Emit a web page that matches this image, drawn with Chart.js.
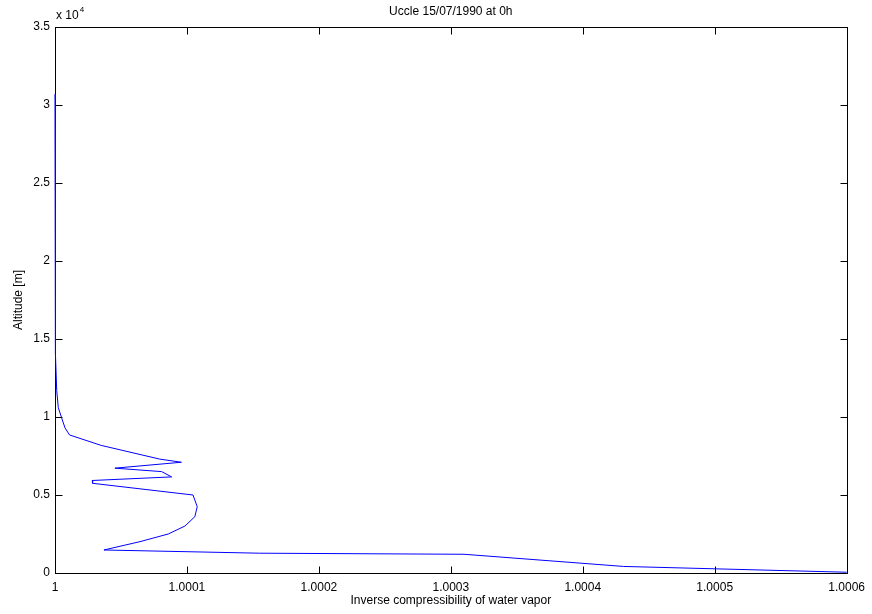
<!DOCTYPE html>
<html>
<head>
<meta charset="utf-8">
<title>Uccle 15/07/1990 at 0h</title>
<script src="https://cdn.jsdelivr.net/npm/chart.js@4/dist/chart.umd.min.js"></script>
<style>
  html, body { margin: 0; padding: 0; background: #fff; }
  #wrap { width: 872px; height: 614px; }
</style>
</head>
<body>
<div id="wrap"><canvas id="c" width="872" height="614"></canvas></div>
<script>
// Sounding profile: inverse compressibility of water vapour vs altitude
const compressibility = [
  1.0000000, 1.0000002, 1.0000005, 1.0000013, 1.0000025, 1.0000050,
  1.0000076, 1.0000110, 1.0000350, 1.0000794, 1.0000958, 1.0000454,
  1.0000808, 1.0000884, 1.0000282, 1.0000285, 1.0001046, 1.0001078,
  1.0001060, 1.0000985, 1.0000858, 1.0000644, 1.0000371, 1.0001550,
  1.0003100, 1.0004310, 1.0006000
];
const altitude = [
  30700, 20000, 14000, 11700, 10600, 9950,
  9300, 8850, 8180, 7300, 7100, 6720,
  6500, 6160, 5930, 5750, 5000, 4250,
  3610, 3010, 2500, 2010, 1475, 1270,
  1200, 420, 50
];

const xTicks = [1, 1.0001, 1.0002, 1.0003, 1.0004, 1.0005, 1.0006];
const xTickLabels = ['1', '1.0001', '1.0002', '1.0003', '1.0004', '1.0005', '1.0006'];
const yTicks = [0, 5000, 10000, 15000, 20000, 25000, 30000, 35000];
const yTickLabels = ['0', '0.5', '1', '1.5', '2', '2.5', '3', '3.5'];

const titleText = 'Uccle 15/07/1990 at 0h';
const xTitle = 'Inverse compressibility of water vapor';
const yTitle = 'Altitude [m]';

const FONT = '"Liberation Sans", Arial, Helvetica, sans-serif';
Chart.defaults.font.family = FONT;
Chart.defaults.font.size = 12;
Chart.defaults.color = '#000';

const points = compressibility.map((v, i) => ({ x: v, y: altitude[i] }));

// Box, inward tick marks on all four sides, and the text annotations
const framePlugin = {
  id: 'frame',
  beforeDatasetsDraw(chart) {
    const { ctx, chartArea: a, scales } = chart;
    const L = Math.round(a.left) + 0.5, R = Math.round(a.right) + 0.5;
    const T = Math.round(a.top) + 0.5, B = Math.round(a.bottom) + 0.5;
    const tick = 7;
    ctx.save();
    ctx.strokeStyle = '#000';
    ctx.lineWidth = 1;
    ctx.strokeRect(L, T, R - L, B - T);
    ctx.beginPath();
    xTicks.forEach(v => {
      const px = Math.round(scales.x.getPixelForValue(v)) + 0.5;
      ctx.moveTo(px, B); ctx.lineTo(px, B - tick);
      ctx.moveTo(px, T); ctx.lineTo(px, T + tick);
    });
    yTicks.forEach(v => {
      const py = Math.round(scales.y.getPixelForValue(v)) + 0.5;
      ctx.moveTo(L, py); ctx.lineTo(L + tick, py);
      ctx.moveTo(R, py); ctx.lineTo(R - tick, py);
    });
    ctx.stroke();
    ctx.restore();
  },
  afterDraw(chart) {
    const { ctx, chartArea: a } = chart;
    ctx.save();
    ctx.fillStyle = '#000';
    ctx.font = '12px ' + FONT;
    ctx.textBaseline = 'middle';
    ctx.textAlign = 'center';
    ctx.fillText(titleText, (a.left + a.right) / 2, 12);
    ctx.fillText(xTitle, (a.left + a.right) / 2, 601);
    // exponent marker for the altitude axis
    ctx.textAlign = 'left';
    ctx.fillText('x 10', a.left + 1, 16);
    const w = ctx.measureText('x 10').width;
    ctx.font = '8px ' + FONT;
    ctx.fillText('4', a.left + 1 + w + 1, 10);
    // vertical axis title
    ctx.font = '12px ' + FONT;
    ctx.translate(19, (a.top + a.bottom) / 2);
    ctx.rotate(-Math.PI / 2);
    ctx.textAlign = 'center';
    ctx.fillText(yTitle, 0, 0);
    ctx.restore();
  }
};

new Chart(document.getElementById('c'), {
  type: 'scatter',
  data: {
    datasets: [{
      data: points,
      showLine: true,
      borderColor: 'rgb(0,0,255)',
      borderWidth: 1,
      pointRadius: 0,
      fill: false,
      tension: 0,
      clip: 3
    }]
  },
  options: {
    responsive: false,
    animation: false,
    layout: { padding: { top: 27, right: 23, left: 0, bottom: 0 } },
    plugins: {
      legend: { display: false },
      tooltip: { enabled: false },
      title: { display: false }
    },
    scales: {
      x: {
        type: 'linear',
        min: 1,
        max: 1.0006,
        grid: { display: false, drawTicks: false },
        border: { display: false },
        afterBuildTicks: s => { s.ticks = xTicks.map(v => ({ value: v })); },
        afterFit: s => { s.height = 41; },
        ticks: {
          padding: 7,
          maxRotation: 0,
          autoSkip: false,
          callback: (v, i) => xTickLabels[i]
        }
      },
      y: {
        type: 'linear',
        min: 0,
        max: 35000,
        grid: { display: false, drawTicks: false },
        border: { display: false },
        afterBuildTicks: s => { s.ticks = yTicks.map(v => ({ value: v })); },
        afterFit: s => { s.width = 55; },
        ticks: {
          padding: 5,
          autoSkip: false,
          callback: (v, i) => yTickLabels[i]
        }
      }
    }
  },
  plugins: [framePlugin]
});
</script>
</body>
</html>
